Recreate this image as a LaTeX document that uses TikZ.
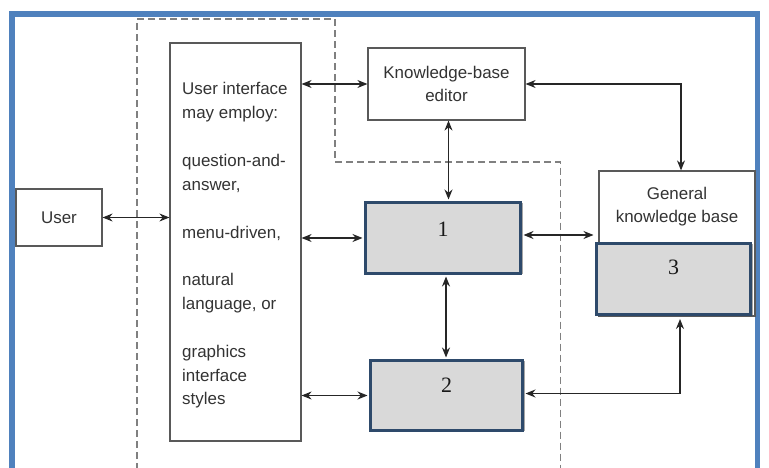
\documentclass[tikz,border=0pt]{standalone}
\usepackage{fontspec}
\setmainfont{Liberation Sans}
\newfontfamily\numfont{Liberation Serif}
\usetikzlibrary{arrows.meta}
\definecolor{frameblue}{HTML}{4F81BD}
\definecolor{boxblue}{HTML}{2E4A6B}
\definecolor{txt}{HTML}{333333}
\tikzset{
  lbl/.style={font=\fontsize{17}{23}\selectfont, text=txt},
  whitebox/.style={draw=black!65, line width=1.2bp, fill=white, inner sep=0pt},
  graybox/.style={draw=boxblue, line width=3bp, fill=black!15, inner sep=0pt},
  shadowbox/.style={fill=black!35, draw=none, inner sep=0pt},
  num/.style={font=\numfont\fontsize{22}{22}\selectfont, text=black!90},
  conn/.style={draw=black!85, line width=1.2bp, {Stealth[length=10bp,width=8bp]}-{Stealth[length=10bp,width=8bp]}},
  dashline/.style={draw=black!50, line width=1.6bp, dash pattern=on 7bp off 4bp},
}
\begin{document}
\begin{tikzpicture}[x=1bp,y=-1bp]
\useasboundingbox (0,0) rectangle (769,468);
\fill[white] (0,0) rectangle (769,468);
% outer frame (open at bottom)
\draw[frameblue, line width=5.5bp] (12,470) -- (12,14) -- (757.5,14) -- (757.5,470);
% dashed boundary
\draw[dashline] (137,470) -- (137,19) -- (335,19) -- (335,162) -- (560.5,162) -- (560.5,470);

% white boxes
\node[whitebox, minimum width=86bp, minimum height=57bp] (user) at (59,217.5) {};
\node[lbl] at (user.center) {User};
\node[whitebox, minimum width=131bp, minimum height=398bp] (ui) at (235.5,242) {};
\node[lbl, anchor=north west, inner sep=0pt, align=left, font=\fontsize{17}{23.9}\selectfont] (uitext) at (182,82.5)
  {User interface\\may employ:\\[23.9bp]question-and-\\answer,\\[23.9bp]menu-driven,\\[23.9bp]natural\\language, or\\[23.9bp]graphics\\interface\\styles};
\node[whitebox, minimum width=157bp, minimum height=72bp] (kbe) at (446.5,84) {};
\node[lbl, align=center] (kbetext) at (kbe.center) {Knowledge-base\\editor};
\node[whitebox, minimum width=156bp, minimum height=145bp] (gkb) at (677,243.5) {};
\node[lbl, align=center] (gkbtext) at (677,206.5) {General\\knowledge base};

% gray boxes with slight shadow
\node[shadowbox, minimum width=155bp, minimum height=71bp] (s1) at (445.5,238.5) {};
\node[graybox, minimum width=155bp, minimum height=71bp] (b1) at (443,238) {};
\node[num] (n1) at ([yshift=9bp]b1.center) {1};
\node[shadowbox, minimum width=152bp, minimum height=70bp] (s2) at (449,396) {};
\node[graybox, minimum width=152bp, minimum height=70bp] (b2) at (446.5,395.5) {};
\node[num] (n2) at ([yshift=10bp]b2.center) {2};
\node[shadowbox, minimum width=154bp, minimum height=71bp] (s3) at (676,279.5) {};
\node[graybox, minimum width=154bp, minimum height=71bp] (b3) at (673.5,279) {};
\node[num] (n3) at ([yshift=12bp]b3.center) {3};

% connectors
\draw[conn] (user.east) -- (user.east -| ui.west);
\draw[conn] (ui.east |- kbe.west) -- (kbe.west);
\draw[conn] (ui.east |- b1.west) -- ([xshift=-1.5bp]b1.west);
\draw[conn] (ui.east |- b2.west) -- ([xshift=-1.5bp]b2.west);
\draw[conn] ([xshift=2bp]kbe.south) -- ([xshift=2bp,yshift=1.5bp]kbe.south |- b1.north);
\draw[conn] ([xshift=3bp,yshift=-1.5bp]b1.south) -- ([xshift=3bp,yshift=1.5bp]b1.south |- b2.north);
\draw[conn] ([xshift=1.5bp,yshift=3bp]b1.east) -- ([xshift=-1.5bp,yshift=3bp]b1.east -| b3.west);
\draw[conn] (kbe.east) -| ([xshift=4bp]gkb.north);
\draw[conn] ([xshift=6.5bp,yshift=-3bp]b3.south) |- ([xshift=1.5bp,yshift=2bp]b2.east);
\end{tikzpicture}
\end{document}
